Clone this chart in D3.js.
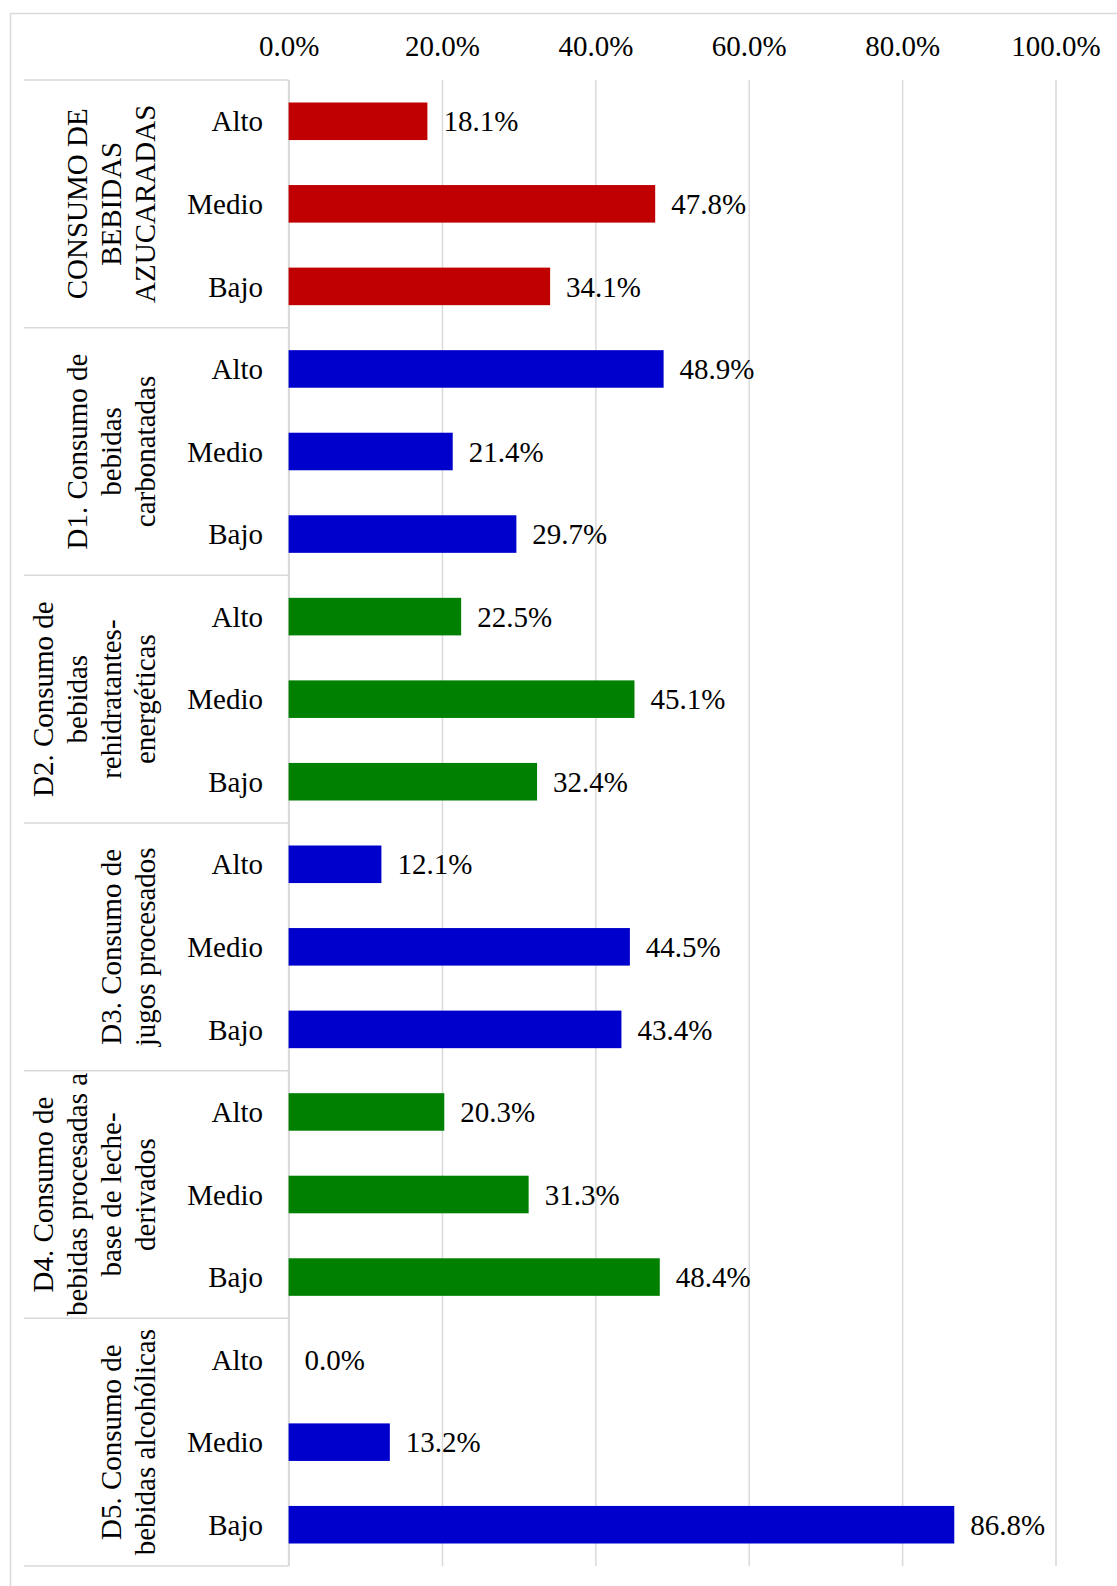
<!DOCTYPE html>
<html>
<head>
<meta charset="utf-8">
<script src="https://cdn.jsdelivr.net/npm/d3@7"></script>
<style>
  html, body { margin: 0; padding: 0; background: #fff; }
  svg text { font-family: "Liberation Serif", "Times New Roman", serif; fill: #000; }
</style>
</head>
<body>
<svg id="chart" width="1117" height="1586"></svg>
<script>
// ---- Data ----
const groups = [
  "CONSUMO DE BEBIDAS AZUCARADAS",
  "D1. Consumo de bebidas carbonatadas",
  "D2. Consumo de bebidas rehidratantes-energéticas",
  "D3. Consumo de jugos procesados",
  "D4. Consumo de bebidas procesadas a base de leche-derivados",
  "D5. Consumo de bebidas alcohólicas"
];
const groupLines = [
  ["CONSUMO DE", "BEBIDAS", "AZUCARADAS"],
  ["D1. Consumo de", "bebidas", "carbonatadas"],
  ["D2. Consumo de", "bebidas", "rehidratantes-", "energéticas"],
  ["D3. Consumo de", "jugos procesados"],
  ["D4. Consumo de", "bebidas procesadas a", "base de leche-", "derivados"],
  ["D5. Consumo de", "bebidas alcohólicas"]
];
const levels = ["Alto", "Medio", "Bajo"];
const values = [
  [18.1, 47.8, 34.1],
  [48.9, 21.4, 29.7],
  [22.5, 45.1, 32.4],
  [12.1, 44.5, 43.4],
  [20.3, 31.3, 48.4],
  [0.0, 13.2, 86.8]
];
const groupColors = ["#C00000", "#0000CC", "#008000", "#0000CC", "#008000", "#0000CC"];
const xTicks = [0, 20, 40, 60, 80, 100];

// ---- Layout ----
const svg = d3.select("#chart");
const pL = 288.6, pR = 1055.5, pT = 80, pB = 1566;
const tableLeft = 24;
const fontSize = 29;
const gridColor = "#d9d9d9";

const rows = [];
groups.forEach((g, gi) => levels.forEach((l, li) => rows.push({gi, li, key: gi + "|" + l, label: l, value: values[gi][li], color: groupColors[gi]})));

const x = d3.scaleLinear().domain([0, 100]).range([pL, pR]);
const pad = 0.545;
const y = d3.scaleBand().domain(rows.map(r => r.key)).range([pT, pB]).paddingInner(pad).paddingOuter(pad / 2);
const step = y.step();

// outer border
svg.append("rect").attr("x", 10.5).attr("y", 13.5).attr("width", 1200).attr("height", 1700)
  .attr("fill", "none").attr("stroke", gridColor).attr("stroke-width", 1.5);

// grid lines + top tick labels via axis
const axis = d3.axisTop(x).tickValues(xTicks).tickFormat(d => d3.format(".1f")(d) + "%").tickSize(-(pB - pT)).tickPadding(0);
const ag = svg.append("g").attr("transform", `translate(0,${pT})`).call(axis);
ag.select(".domain").remove();
ag.selectAll(".tick line").attr("stroke", gridColor).attr("stroke-width", 1.5);
ag.selectAll(".tick text").attr("y", 55.5 - pT).attr("dy", null)
  .style("font-size", fontSize + "px").style("font-family", '"Liberation Serif", serif').attr("fill", "#000");

// table separators
const seps = d3.range(groups.length + 1).map(i => pT + i * 3 * step);
svg.append("g").selectAll("line").data(seps).join("line")
  .attr("x1", tableLeft).attr("x2", pL).attr("y1", d => d).attr("y2", d => d)
  .attr("stroke", gridColor).attr("stroke-width", 1.5);
// vertical axis line
svg.append("line").attr("x1", pL).attr("x2", pL).attr("y1", pT).attr("y2", pB)
  .attr("stroke", gridColor).attr("stroke-width", 1.5);

// bars
svg.append("g").selectAll("rect").data(rows.filter(r => r.value > 0)).join("rect")
  .attr("x", x(0)).attr("y", d => y(d.key))
  .attr("width", d => x(d.value) - x(0)).attr("height", y.bandwidth())
  .attr("fill", d => d.color);

// value labels
svg.append("g").selectAll("text").data(rows).join("text")
  .attr("x", d => x(d.value) + 16).attr("y", d => y(d.key) + y.bandwidth() / 2)
  .attr("dy", "0.35em").style("font-size", fontSize + "px")
  .text(d => d3.format(".1f")(d.value) + "%");

// category labels
svg.append("g").selectAll("text").data(rows).join("text")
  .attr("x", 263).attr("y", d => y(d.key) + y.bandwidth() / 2)
  .attr("dy", "0.35em").attr("text-anchor", "end").style("font-size", fontSize + "px")
  .text(d => d.label);

// group labels (rotated)
const lineGap = 34, lastLineX = 145;
groupLines.forEach((lines, gi) => {
  const cy = pT + (gi * 3 + 1.5) * step;
  const n = lines.length;
  lines.forEach((t, i) => {
    const cx = lastLineX - (n - 1 - i) * lineGap;
    svg.append("text")
      .attr("transform", `translate(${cx},${cy}) rotate(-90)`)
      .attr("text-anchor", "middle").attr("dy", "0.35em")
      .style("font-size", fontSize + "px")
      .text(t);
  });
});
</script>
</body>
</html>
